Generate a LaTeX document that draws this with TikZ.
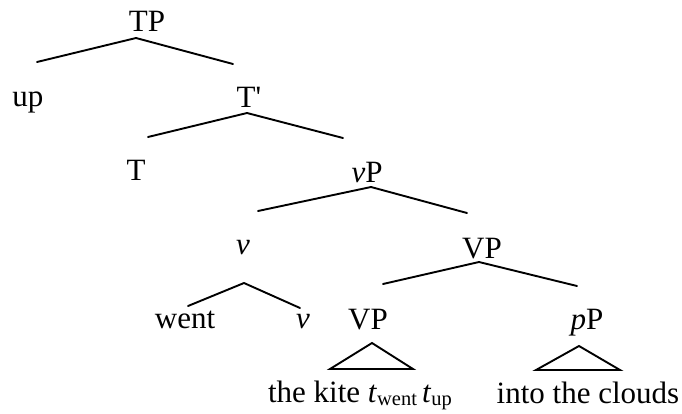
\documentclass[tikz,border=0pt]{standalone}
\usepackage{fontspec}
\setmainfont{Liberation Serif}[Ligatures=TeXOff]
\begin{document}
\begin{tikzpicture}[x=1pt,y=-1pt,
  lbl/.style={anchor=base,inner sep=0pt,font=\fontsize{31}{36}\selectfont},
  branch/.style={line width=1.9pt,line cap=round,line join=round},
  tri/.style={line width=1.9pt,line join=miter}]
\useasboundingbox (0,0) rectangle (682,413);
% labels
\node[lbl] (TP) at (147,31) {TP};
\node[lbl] (up) at (28,106) {up};
\node[lbl] (Tbar) at (249,107) {T'};
\node[lbl] (T) at (136,180) {T};
\node[lbl] (vP) at (367,182) {\textit{v}P};
\node[lbl] (v) at (243,254) {\textit{v}};
\node[lbl] (VP) at (482,258) {VP};
\node[lbl] (went) at (185,328) {went};
\node[lbl] (vlow) at (303,328) {\textit{v}};
\node[lbl] (VPlow) at (368,329) {VP};
\node[lbl] (pP) at (587,329) {\textit{p}P};
\node[lbl] (kite) at (360,402) {the kite \textit{t}\raisebox{-3.5pt}{\fontsize{20.5}{22}\selectfont went}\,\textit{t}\raisebox{-3.5pt}{\fontsize{20.5}{22}\selectfont up}};
\node[lbl] (clouds) at (588,403) {into the clouds};
% branch points
\coordinate (TPa) at (136,38);
\coordinate (upe) at (37,62);
\coordinate (Tbare) at (233,64);
\coordinate (Tbara) at (247,113);
\coordinate (Te) at (148,137);
\coordinate (vPe) at (343,138);
\coordinate (vPa) at (371,187);
\coordinate (ve) at (258,211);
\coordinate (VPe) at (467,213);
\coordinate (VPa) at (479,262);
\coordinate (VPlowe) at (383,284);
\coordinate (pPe) at (577,286);
\coordinate (va) at (244,283);
\coordinate (wente) at (188,306);
\coordinate (vlowe) at (300,308);
\coordinate (tri1a) at (372,343);
\coordinate (tri1l) at (330,369);
\coordinate (tri1r) at (413,369);
\coordinate (tri2a) at (579,346);
\coordinate (tri2l) at (536,370);
\coordinate (tri2r) at (620,370);
% branches
\draw[branch] (upe) -- (TPa) -- (Tbare);
\draw[branch] (Te) -- (Tbara) -- (vPe);
\draw[branch] (ve) -- (vPa) -- (VPe);
\draw[branch] (VPlowe) -- (VPa) -- (pPe);
\draw[branch] (wente) -- (va) -- (vlowe);
\draw[tri] (tri1a) -- (tri1l) -- (tri1r) -- cycle;
\draw[tri] (tri2a) -- (tri2l) -- (tri2r) -- cycle;
\end{tikzpicture}
\end{document}
